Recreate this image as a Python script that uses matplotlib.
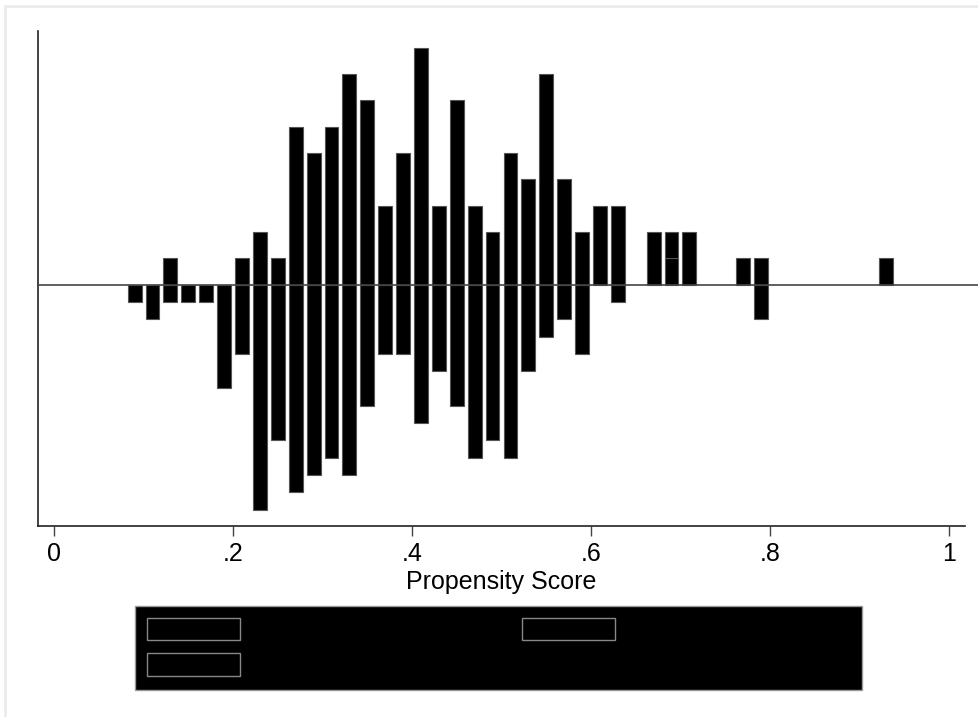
import matplotlib
matplotlib.use("Agg")
import matplotlib.pyplot as plt
from matplotlib.patches import Patch, Rectangle

# bin centers and counts (bin width .02)
bin_width = 0.02

treated_on_x = [0.13, 0.21, 0.23, 0.25, 0.27, 0.29, 0.31, 0.33, 0.35, 0.37,
                0.39, 0.41, 0.43, 0.45, 0.47, 0.49, 0.51, 0.53, 0.55, 0.57,
                0.59, 0.61, 0.63, 0.67, 0.69, 0.71, 0.77, 0.79]
treated_on_n = [1, 1, 2, 1, 6, 5, 6, 8, 7, 3,
                5, 9, 3, 7, 3, 2, 5, 4, 8, 4,
                2, 3, 3, 2, 1, 2, 1, 1]

treated_off_x = [0.69, 0.93]
treated_off_n = [1, 1]

untreated_x = [0.09, 0.11, 0.13, 0.15, 0.17, 0.19, 0.21, 0.23, 0.25, 0.27,
               0.29, 0.31, 0.33, 0.35, 0.37, 0.39, 0.41, 0.43, 0.45, 0.47,
               0.49, 0.51, 0.53, 0.55, 0.57, 0.59, 0.63, 0.79]
untreated_n = [1, 2, 1, 1, 1, 6, 4, 13, 9, 12,
               11, 10, 11, 7, 4, 4, 8, 5, 7, 10,
               9, 10, 5, 3, 2, 4, 1, 2]

xticks = [0, 0.2, 0.4, 0.6, 0.8, 1]
xtick_labels = ["0", ".2", ".4", ".6", ".8", "1"]
legend_labels = ["Untreated", "Treated: On support", "Treated: Off support"]

# densities (treated above the line, untreated below)
n_treated = sum(treated_on_n) + sum(treated_off_n)
n_untreated = sum(untreated_n)
on_dens = [c / (n_treated * bin_width) for c in treated_on_n]
off_dens = [c / (n_treated * bin_width) for c in treated_off_n]
un_dens = [-c / (n_untreated * bin_width) for c in untreated_n]
on_lookup = dict(zip(treated_on_x, on_dens))
off_bottom = [on_lookup.get(x, 0) for x in treated_off_x]

plt.rcParams["font.family"] = ["Liberation Sans", "DejaVu Sans"]

W, H = 979, 717
fig = plt.figure(figsize=(W / 100, H / 100), dpi=100)
ax = fig.add_axes([38 / W, 1 - 526 / H, (965 - 38) / W, (526 - 31) / H])

bar_kw = dict(width=0.0155, color="black", edgecolor="#555555", linewidth=0.8, zorder=3)
ax.bar(untreated_x, un_dens, **bar_kw)
ax.bar(treated_on_x, on_dens, **bar_kw)
ax.bar(treated_off_x, off_dens, bottom=off_bottom, **bar_kw)

ax.axhline(0, xmin=0, xmax=(979 - 38) / (965 - 38), color="#444444",
           linewidth=1.2, clip_on=False, zorder=4)

ax.set_xlim(-0.018, 1.018)
ax.set_ylim(-4.28, 4.50)

ax.spines["top"].set_visible(False)
ax.spines["right"].set_visible(False)
for s in ("left", "bottom"):
    ax.spines[s].set_color("#222222")
    ax.spines[s].set_linewidth(1.2)

ax.set_yticks([])
ax.set_xticks(xticks)
ax.set_xticklabels(xtick_labels, fontsize=18)
ax.tick_params(axis="x", length=7.2, width=1.0, color="#444444", pad=4)
ax.set_xlabel("Propensity Score", fontsize=18, labelpad=3)

handles = [Patch(facecolor="black", edgecolor="#888888", linewidth=1.0) for _ in legend_labels]
# matplotlib fills columns first; reorder so rows read like the original
order = [0, 2, 1]
leg = fig.legend([handles[i] for i in order], [legend_labels[i] for i in order],
                 ncol=2, loc="upper left", bbox_to_anchor=(135 / W, 1 - 606 / H),
                 borderaxespad=0, fontsize=18, frameon=True, fancybox=False,
                 framealpha=1.0, handlelength=3.72, handleheight=1.0,
                 handletextpad=0.5, columnspacing=1.9,
                 labelspacing=0.44, borderpad=0.46)
leg.get_frame().set_facecolor("black")
leg.get_frame().set_edgecolor("#999999")
leg.get_frame().set_linewidth(1.0)
for t in leg.get_texts():
    t.set_color("black")

# light outer border of the graph region (top and left visible)
fig.add_artist(Rectangle((5.5 / W, -0.5), 2.0, (1 - 5.5 / H) + 0.5,
                         transform=fig.transFigure, fill=False,
                         edgecolor="#ebebeb", linewidth=2.0))

fig.savefig("out.png", dpi=100, facecolor="white")
